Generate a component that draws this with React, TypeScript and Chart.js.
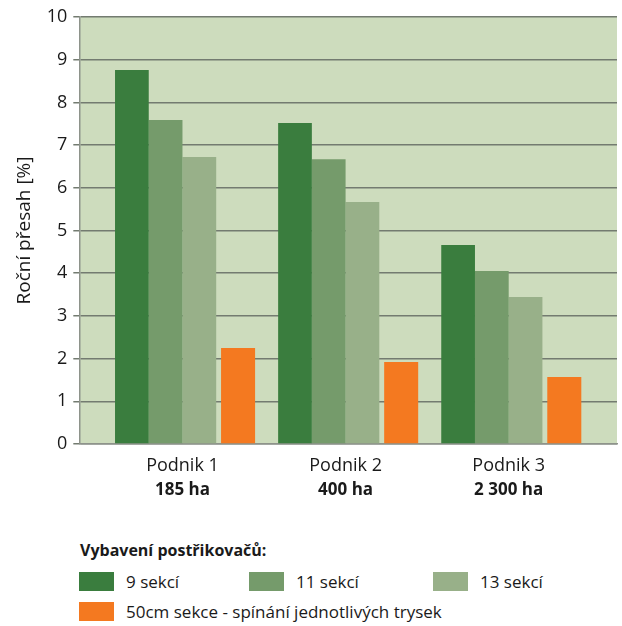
import React, { useEffect, useRef } from "react";
import { Chart, registerables } from "chart.js";

Chart.register(...registerables);

const categories = ["Podnik 1", "Podnik 2", "Podnik 3"];
const areas = ["185 ha", "400 ha", "2 300 ha"];
const seriesNames = ["9 sekcí", "11 sekcí", "13 sekcí", "50cm sekce - spínání jednotlivých trysek"];
const sekce9 = [8.76, 7.52, 4.66];
const sekce11 = [7.59, 6.67, 4.05];
const sekce13 = [6.72, 5.67, 3.44];
const trysky = [2.25, 1.92, 1.57];
const seriesColors = ["#3a7d3e", "#759b6b", "#98b089", "#f47920"];
const yTitle = "Roční přesah [%]";
const legendTitle = "Vybavení postřikovačů:";
const yMin = 0;
const yMax = 10;
const yStep = 1;

const FONT = '"Open Sans", "Noto Sans", sans-serif';
const TEXT = "#1a1a1a";

const plotBg = {
  id: "plotBg",
  beforeDraw(chart: any) {
    const { ctx, chartArea } = chart;
    ctx.save();
    ctx.fillStyle = "#cddcbd";
    ctx.fillRect(chartArea.left, chartArea.top, chartArea.right - chartArea.left, chartArea.bottom - chartArea.top);
    ctx.restore();
  },
};

const subLabels = {
  id: "subLabels",
  afterDraw(chart: any) {
    const { ctx } = chart;
    const xs = chart.scales.x;
    ctx.save();
    ctx.font = `bold 17px ${FONT}`;
    ctx.fillStyle = TEXT;
    ctx.textAlign = "center";
    ctx.textBaseline = "middle";
    areas.forEach((a, i) => {
      ctx.fillText(a, xs.getPixelForValue(i), xs.top + 46);
    });
    ctx.restore();
  },
};

export default function App() {
  const ref = useRef<HTMLCanvasElement | null>(null);

  useEffect(() => {
    if (!ref.current) return;
    const series = [sekce9, sekce11, sekce13, trysky];
    const chart = new Chart(ref.current, {
      type: "bar",
      data: {
        datasets: series.map((vals, s) => ({
          label: seriesNames[s],
          data: vals.map((v, i) => ({ x: i, y: v })),
          backgroundColor: seriesColors[s],
          borderWidth: 0,
          categoryPercentage: s === 3 ? 0.909 : 0.827,
          barPercentage: s === 3 ? 0.918 : 1,
        })),
      },
      options: {
        animation: false,
        responsive: false,
        devicePixelRatio: 1,
        layout: { padding: { top: 17, right: 5, left: 0, bottom: 0 } },
        plugins: {
          legend: { display: false },
          tooltip: { enabled: false },
        },
        scales: {
          x: {
            type: "linear",
            offset: false,
            bounds: "data",
            min: -0.6325,
            max: 2.664,
            grid: { display: false, drawTicks: false, offset: false },
            border: { display: true, color: "#8e938b", width: 1.5 },
            afterBuildTicks: (scale: any) => {
              scale.ticks = categories.map((_, i) => ({ value: i }));
            },
            afterFit: (scale: any) => {
              scale.height = 76;
            },
            ticks: {
              autoSkip: false,
              maxRotation: 0,
              padding: 11,
              color: TEXT,
              font: { family: FONT, size: 18 },
              callback: (v: any) => categories[v as number] ?? "",
            },
          },
          y: {
            min: yMin,
            max: yMax,
            afterFit: (scale: any) => {
              scale.width = 79.3;
            },
            ticks: {
              stepSize: yStep,
              padding: 6,
              color: TEXT,
              font: { family: FONT, size: 18 },
            },
            grid: { color: "#737b70", lineWidth: 1.5, tickLength: 6 },
            border: { display: true, color: "#8e938b", width: 1.5 },
            title: {
              display: true,
              text: yTitle,
              color: TEXT,
              font: { family: FONT, size: 19, lineHeight: 1.2 },
              padding: { top: 13, bottom: 0 },
            },
          },
        },
      },
      plugins: [plotBg, subLabels],
    } as any);
    return () => chart.destroy();
  }, []);

  const colLeft = [79, 249, 433];
  const rowTop = [572, 602];

  return (
    <div style={{ position: "absolute", left: 0, top: 0, width: 622, height: 626, background: "#fff", fontFamily: FONT, color: TEXT }}>
      <canvas ref={ref} width={622} height={520} style={{ position: "absolute", left: 0, top: 0 }} />
      <div style={{ position: "absolute", left: 80, top: 538, fontWeight: 700, fontSize: 16, lineHeight: "24px", whiteSpace: "nowrap" }}>
        {legendTitle}
      </div>
      {seriesNames.map((name, s) => {
        const left = colLeft[s % 3];
        const top = rowTop[Math.floor(s / 3)];
        return (
          <div key={name} style={{ position: "absolute", left, top, height: 19, display: "flex", alignItems: "center", whiteSpace: "nowrap" }}>
            <span style={{ display: "inline-block", width: 35, height: 19, background: seriesColors[s] }} />
            <span style={{ marginLeft: 12, fontSize: 17, lineHeight: "19px" }}>{name}</span>
          </div>
        );
      })}
    </div>
  );
}
